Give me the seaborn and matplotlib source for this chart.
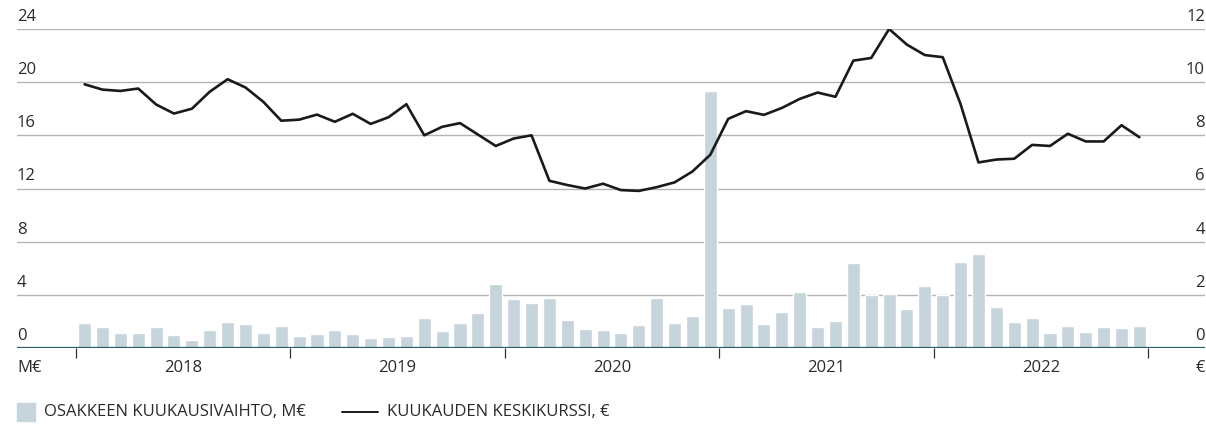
import numpy as np
import pandas as pd
import matplotlib
matplotlib.use("Agg")
import matplotlib.pyplot as plt
import seaborn as sns
from matplotlib.patches import Rectangle
from matplotlib.lines import Line2D
import matplotlib.transforms as mtransforms

# monthly data 2018-2022
years = ["2018", "2019", "2020", "2021", "2022"]
months = [f"{y}-{m:02d}" for y in years for m in range(1, 13)]

# share monthly turnover, M€ (left axis)
vaihto = [1.88, 1.58, 1.13, 1.13, 1.58, 0.98, 0.60, 1.35, 1.95, 1.80, 1.13, 1.65,
          0.90, 1.05, 1.35, 1.05, 0.75, 0.83, 0.90, 2.25, 1.28, 1.88, 2.63, 4.80,
          3.68, 3.38, 3.76, 2.10, 1.43, 1.35, 1.13, 1.73, 3.76, 1.88, 2.40, 19.3,
          3.00, 3.30, 1.80, 2.70, 4.20, 1.58, 2.03, 6.40, 3.98, 4.06, 2.93, 4.66,
          3.98, 6.47, 7.07, 3.08, 1.95, 2.25, 1.13, 1.65, 1.20, 1.58, 1.50, 1.65]

# monthly average price, € (right axis)
keskikurssi = [9.92, 9.72, 9.67, 9.76, 9.16, 8.82, 9.00, 9.64, 10.11, 9.80, 9.26, 8.55,
               8.59, 8.78, 8.51, 8.81, 8.43, 8.68, 9.17, 8.00, 8.32, 8.46, 8.03, 7.60,
               7.88, 8.00, 6.29, 6.13, 6.00, 6.18, 5.94, 5.91, 6.05, 6.23, 6.64, 7.27,
               8.62, 8.91, 8.77, 9.03, 9.37, 9.61, 9.45, 10.81, 10.91, 12.00, 11.41, 11.02,
               10.94, 9.17, 6.98, 7.09, 7.12, 7.64, 7.60, 8.06, 7.77, 7.77, 8.38, 7.93]

left_ticks = [0, 4, 8, 12, 16, 20, 24]
right_ticks = [0, 2, 4, 6, 8, 10, 12]

bar_label = "OSAKKEEN KUUKAUSIVAIHTO, M€"
line_label = "KUUKAUDEN KESKIKURSSI, €"

df = pd.DataFrame({"kk": months, "vaihto": vaihto, "kurssi": keskikurssi})
df["pos"] = np.arange(len(df))

sns.set_style("white")
plt.rcParams["font.family"] = ["Open Sans", "DejaVu Sans"]
text_color = "#2a2a2a"
bar_color = "#c6d4dc"
grid_color = "#b4b4b4"
base_color = "#2b5b6b"
fs = 12

W, H = 1206, 429
fig = plt.figure(figsize=(W / 100, H / 100), dpi=100)
ax = fig.add_axes([17 / W, (H - 348) / H, (1205 - 17) / W, (348 - 29) / H])

sns.barplot(data=df, x="kk", y="vaihto", color=bar_color, width=0.73,
            saturation=1, ax=ax, zorder=2)
ax.set_ylim(0, 24)
ax.set_xlim(-3.78, 62.67)

ax.set_yticks(left_ticks)
ax.yaxis.grid(True, color=grid_color, linewidth=1.0, zorder=0)
ax.set_axisbelow(True)
for s in ax.spines.values():
    s.set_visible(False)
ax.axhline(0, color=base_color, linewidth=1.6, zorder=4)

# year separators
bounds = [i * 12 - 0.5 for i in range(len(years) + 1)]
ax.set_xticks(bounds)
ax.set_xticklabels([])
ax.tick_params(axis="x", bottom=True, length=7, width=0.9, color="#333333", direction="out")
ax.set_xlabel("")
ax.set_ylabel("")

lift = mtransforms.ScaledTranslation(0, 3 / 72, fig.dpi_scale_trans)
ytrans = ax.get_yaxis_transform() + lift
for t in left_ticks:
    ax.text(0, t, f"{t}", transform=ytrans, ha="left", va="bottom",
            fontsize=fs, color=text_color)

xtrans = ax.get_xaxis_transform()
for i, y in enumerate(years):
    ax.text(i * 12 + 5.5, -0.064, y, transform=xtrans, ha="center", va="center",
            fontsize=fs, color=text_color)
ax.text(0, -0.064, "M€", transform=ax.transAxes, ha="left", va="center",
        fontsize=fs, color=text_color)
ax.text(1, -0.064, "€", transform=ax.transAxes, ha="right", va="center",
        fontsize=fs, color=text_color)

ax2 = ax.twinx()
sns.lineplot(data=df, x="pos", y="kurssi", color="#1a1a1a", linewidth=1.9, ax=ax2)
ax2.set_ylim(0, 12)
ax2.set_xlim(-3.78, 62.67)
ax2.set_yticks(right_ticks)
ax2.set_ylabel("")
ax2.set_xlabel("")
for s in ax2.spines.values():
    s.set_visible(False)
# twinx switches the left ticks back on, so turn them off afterwards
for a in (ax, ax2):
    a.tick_params(axis="y", which="both", left=False, right=False,
                  labelleft=False, labelright=False)
y2trans = ax2.get_yaxis_transform() + lift
for t in right_ticks:
    ax2.text(1, t, f"{t}", transform=y2trans, ha="right", va="bottom",
             fontsize=fs, color=text_color)

# legend drawn in figure pixels
fig.add_artist(Rectangle((17 / W, (H - 421) / H), 18 / W, 18 / H,
                         transform=fig.transFigure, color=bar_color))
fig.text(44 / W, (H - 412) / H, bar_label, ha="left", va="center",
         fontsize=fs, color=text_color)
fig.add_artist(Line2D([342 / W, 378 / W], [(H - 412) / H] * 2,
                      transform=fig.transFigure, color="#1a1a1a", linewidth=1.4))
fig.text(387 / W, (H - 412) / H, line_label, ha="left", va="center",
         fontsize=fs, color=text_color)

fig.savefig("out.png", dpi=100, facecolor="white")
